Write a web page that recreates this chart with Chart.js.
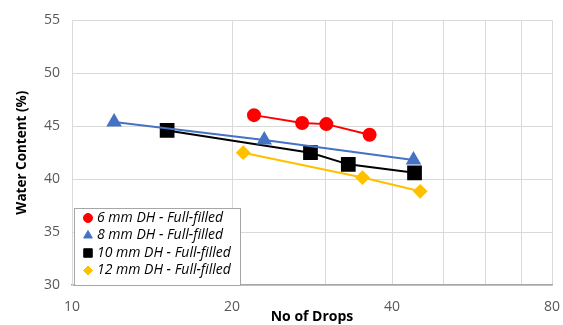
<!DOCTYPE html>
<html><head><meta charset="utf-8">
<script src="https://cdn.jsdelivr.net/npm/chart.js@4"></script>
<style>html,body{margin:0;padding:0;background:#fff}#wrap{width:563px;height:325px;position:relative}</style>
</head><body><div id="wrap"><canvas id="c" width="563" height="325"></canvas></div>
<script>
const seriesLabels = ['6 mm DH - Full-filled','8 mm DH - Full-filled','10 mm DH - Full-filled','12 mm DH - Full-filled'];
const drops6 = [22, 27.1, 30.1, 36.3];
const wc6 = [46.05, 45.3, 45.2, 44.2];
const drops8 = [12.0, 23.0, 43.9];
const wc8 = [45.4, 43.7, 41.8];
const drops10 = [15.1, 28.1, 33.1, 44.1];
const wc10 = [44.6, 42.5, 41.4, 40.6];
const drops12 = [21.0, 35.2, 45.2];
const wc12 = [42.5, 40.15, 38.85];
const xGrid = [10,20,30,40,50,60,70,80];
const xLabels = [10,20,40,80];
const yTicks = [30,35,40,45,50,55];

const pts = (xs, ys) => xs.map((x,i)=>({x, y: ys[i]}));
const colors = ['#ff0000','#4472c4','#000000','#ffc000'];
const styles = ['circle','triangle','rect','rectRot'];
const radii = [6, 7, 9, 6];
const legendRadii = [4.5, 5, 6, 4.5];
const data = [pts(drops6,wc6), pts(drops8,wc8), pts(drops10,wc10), pts(drops12,wc12)];

const legendPlugin = {
  id: 'inLegend',
  afterDraw(chart) {
    const ctx = chart.ctx, a = chart.chartArea;
    const x0 = a.left + 2, y0 = a.bottom - 77, w = 166, h = 77;
    ctx.save();
    ctx.fillStyle = '#fff';
    ctx.fillRect(x0, y0, w, h);
    ctx.strokeStyle = '#a6a6a6'; ctx.lineWidth = 1;
    ctx.strokeRect(x0 + 0.5, y0 + 0.5, w, h);
    ctx.font = 'italic 14px "Open Sans"';
    ctx.textBaseline = 'middle';
    seriesLabels.forEach((lab, i) => {
      const cy = y0 + 10 + i * 17.5;
      ctx.fillStyle = colors[i]; ctx.strokeStyle = colors[i];
      Chart.helpers.drawPoint(ctx, {pointStyle: styles[i], radius: legendRadii[i], borderWidth: 1}, x0 + 14, cy);
      ctx.fillStyle = '#000';
      ctx.fillText(lab, x0 + 23, cy);
    });
    ctx.restore();
  }
};

new Chart(document.getElementById('c'), {
  type: 'scatter',
  data: {
    datasets: data.map((d, i) => ({
      label: seriesLabels[i], data: d, showLine: true,
      borderColor: colors[i], backgroundColor: colors[i], borderWidth: 2,
      pointStyle: styles[i], pointRadius: radii[i], pointHoverRadius: radii[i]
    }))
  },
  options: {
    responsive: false, animation: false,
    layout: {padding: {top: 19, right: 0, left: 0, bottom: 0}},
    plugins: {legend: {display: false}, tooltip: {enabled: false}},
    scales: {
      x: {
        type: 'logarithmic', min: 10, max: 80,
        afterBuildTicks(s) { s.ticks = xGrid.map(v => ({value: v})); },
        afterFit(s) { s.height = 40; s.paddingRight = 10; s.paddingLeft = 0; },
        ticks: {autoSkip: false, maxRotation: 0, padding: 14, color: '#595959', font: {family: '"Open Sans"', size: 14},
          callback: (v) => xLabels.includes(v) ? String(v) : ''},
        grid: {color: '#d9d9d9', drawTicks: false},
        border: {color: '#a6a6a6', width: 1.5},
        title: {display: true, text: 'No of Drops', color: '#000', font: {family: '"Open Sans"', size: 14, weight: 'bold'}, padding: {top: 0, bottom: 0}}
      },
      y: {
        min: 30, max: 55,
        afterBuildTicks(s) { s.ticks = yTicks.map(v => ({value: v})); },
        afterFit(s) { s.width = 72; },
        ticks: {padding: 12, color: '#595959', font: {family: '"Open Sans"', size: 14}},
        grid: {color: '#d9d9d9', drawTicks: false},
        border: {color: '#d9d9d9'},
        title: {display: true, text: 'Water Content (%)', color: '#000', font: {family: '"Open Sans"', size: 13.5, weight: 'bold'}, padding: {top: 14, bottom: 0}}
      }
    }
  },
  plugins: [legendPlugin]
});
</script></body></html>
